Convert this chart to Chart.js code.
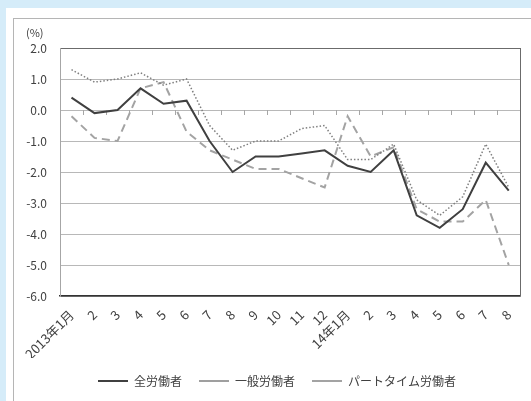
<!DOCTYPE html>
<html>
<head>
<meta charset="utf-8">
<script src="https://cdn.jsdelivr.net/npm/chart.js@4.4.1/dist/chart.umd.min.js"></script>
<style>
  html, body { margin: 0; padding: 0; width: 531px; height: 401px; overflow: hidden; background: #d5ecf9; }
  #panel { position: absolute; left: 6px; top: 8px; right: 0; bottom: 0; background: #ffffff; }
  #frame { position: absolute; left: 13px; top: 18px; right: -2px; bottom: -2px;
           border-left: 1px solid #b5b5b5; border-top: 1px solid #b5b5b5; }
  #wrap { position: absolute; left: 0; top: 0; width: 531px; height: 401px; }
</style>
</head>
<body>
<div id="panel"></div>
<div id="frame"></div>
<div id="wrap"><canvas id="c" width="531" height="401"></canvas></div>
<script>
// 月次（前年同月比, %）
const months = ['2013年1月', '2', '3', '4', '5', '6', '7', '8', '9', '10', '11', '12',
                '14年1月', '2', '3', '4', '5', '6', '7', '8'];

const allWorkers      = [0.4, -0.1, 0.0, 0.7, 0.2, 0.3, -1.0, -2.0, -1.5, -1.5, -1.4, -1.3,
                         -1.8, -2.0, -1.3, -3.4, -3.8, -3.2, -1.7, -2.6];
const generalWorkers  = [1.3, 0.9, 1.0, 1.2, 0.8, 1.0, -0.5, -1.3, -1.0, -1.0, -0.6, -0.5,
                         -1.6, -1.6, -1.1, -2.9, -3.4, -2.8, -1.1, -2.5];
const partTimeWorkers = [-0.2, -0.9, -1.0, 0.7, 0.9, -0.7, -1.3, -1.6, -1.9, -1.9, -2.2, -2.5,
                         -0.2, -1.5, -1.2, -3.2, -3.6, -3.6, -2.9, -5.0];

const seriesNames = ['全労働者', '一般労働者', 'パートタイム労働者'];
const yMin = -6, yMax = 2, yStep = 1;

const FONT = "'Noto Sans CJK JP', 'Noto Sans', sans-serif";
const TEXT = '#404040';
Chart.defaults.font.family = FONT;
Chart.defaults.font.size = 12;
Chart.defaults.color = TEXT;

// 凡例を枠の中央に寄せる
const legendOffset = {
  id: 'legendOffset',
  afterLayout(chart) {
    const lg = chart.legend;
    if (lg) { lg.left += 16; lg.right += 16; }
  }
};

// 単位表示、0.0 線上の目盛り、プロット枠の右辺
const decorations = {
  id: 'decorations',
  beforeDatasetsDraw(chart) {
    const { ctx, chartArea: a, scales: { x, y } } = chart;
    const y0 = y.getPixelForValue(0);
    const step = x.getPixelForValue(1) - x.getPixelForValue(0);
    ctx.save();
    ctx.strokeStyle = '#a6a6a6';
    ctx.lineWidth = 1;
    for (let i = 1; i <= months.length; i++) {
      const px = Math.round(x.getPixelForValue(i) - step / 2) + 0.5;
      ctx.beginPath();
      ctx.moveTo(px, y0);
      ctx.lineTo(px, y0 + 5);
      ctx.stroke();
    }
    ctx.strokeStyle = '#6b6b6b';
    ctx.beginPath();
    ctx.moveTo(Math.round(a.right) + 0.5, a.top);
    ctx.lineTo(Math.round(a.right) + 0.5, a.bottom);
    ctx.stroke();
    ctx.restore();
  },
  afterDraw(chart) {
    const { ctx } = chart;
    ctx.save();
    ctx.fillStyle = TEXT;
    ctx.font = '11px ' + FONT;
    ctx.textAlign = 'left';
    ctx.textBaseline = 'middle';
    ctx.fillText('(%)', 26, 33);
    ctx.restore();
  }
};

new Chart(document.getElementById('c'), {
  type: 'line',
  data: {
    labels: months,
    datasets: [
      { label: seriesNames[0], data: allWorkers, borderColor: '#404040', borderWidth: 2,
        pointRadius: 0, tension: 0, fill: false },
      { label: seriesNames[1], data: generalWorkers, borderColor: '#7f7f7f', borderWidth: 1.5,
        borderDash: [1.5, 2], pointRadius: 0, tension: 0, fill: false },
      { label: seriesNames[2], data: partTimeWorkers, borderColor: '#a3a3a3', borderWidth: 2,
        borderDash: [8, 5], pointRadius: 0, tension: 0, fill: false }
    ]
  },
  options: {
    responsive: false,
    animation: false,
    layout: { padding: { top: 48, right: 9, left: 0, bottom: 4 } },
    plugins: {
      tooltip: { enabled: false },
      legend: {
        position: 'bottom',
        labels: {
          usePointStyle: true,
          pointStyle: 'line',
          pointStyleWidth: 30,
          padding: 17,
          color: TEXT,
          font: { size: 12, family: FONT }
        }
      }
    },
    scales: {
      x: {
        offset: true,
        grid: { display: false, drawTicks: false },
        border: { display: true, color: '#333333', width: 1.5 },
        ticks: { autoSkip: false, minRotation: 45, maxRotation: 45, padding: 11,
                 color: TEXT, font: { size: 13 } },
        afterFit(scale) { scale.height = 62; }
      },
      y: {
        min: yMin, max: yMax,
        grid: {
          drawTicks: false,
          color: (c) => c.tick.value === yMax ? '#6b6b6b' : (c.tick.value === yMin ? '#333333' : '#b8b8b8'),
          lineWidth: (c) => c.tick.value === yMin ? 1.5 : 1
        },
        border: { display: true, color: '#a6a6a6', width: 1 },
        ticks: { stepSize: yStep, padding: 13, color: TEXT, font: { size: 12 },
                 callback: (v) => Number(v).toFixed(1) },
        afterFit(scale) { scale.width = 60; }
      }
    }
  },
  plugins: [decorations, legendOffset]
});
</script>
</body>
</html>
